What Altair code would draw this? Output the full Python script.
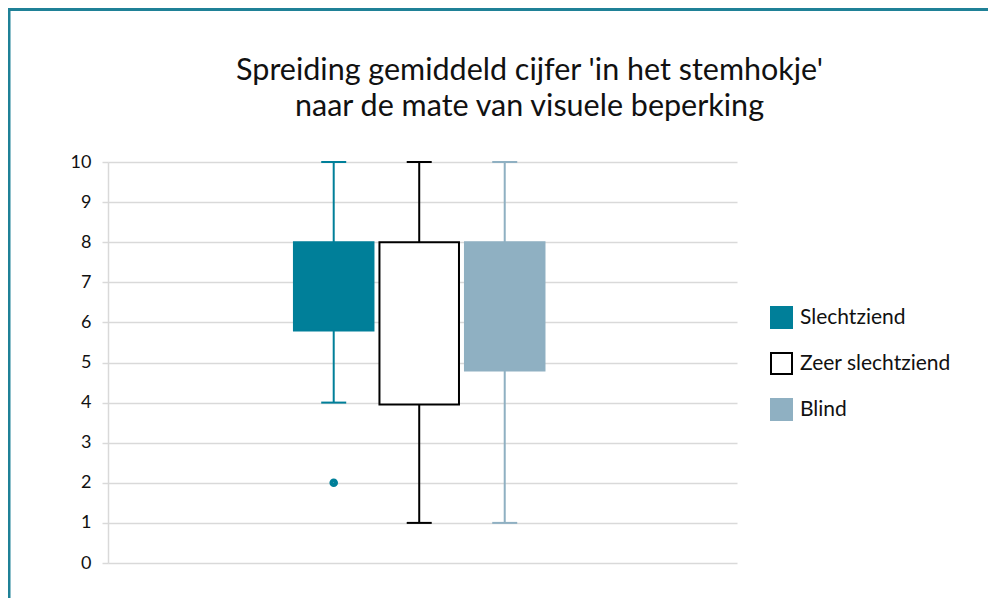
import altair as alt
import pandas as pd

groups = ["Slechtziend", "Zeer slechtziend", "Blind"]
whisker_low = [4, 1, 1]
q1 = [5.8, 3.95, 4.8]
q3 = [8, 8, 8]
whisker_high = [10, 10, 10]
outlier_groups = ["Slechtziend"]
outlier_values = [2]

# empty slots left and right of the three boxes (the chart's category axis is unlabeled)
x_slots = ["_l1", "_l2"] + groups + ["_r1", "_r2"]

fill_colors = ["#007f99", "#ffffff", "#8fb0c2"]
stroke_colors = ["#007f99", "#000000", "#8fb0c2"]

box_df = pd.DataFrame({"groep": groups, "low": whisker_low, "q1": q1, "q3": q3, "high": whisker_high})
out_df = pd.DataFrame({"groep": outlier_groups, "waarde": outlier_values})

FONT = "Lato"

x_enc = alt.X("groep:N", axis=None,
              scale=alt.Scale(domain=x_slots, paddingInner=0.07, paddingOuter=0.213, align=0.41))
y_scale = alt.Scale(domain=[0, 10], nice=False)
fill_scale = alt.Scale(domain=groups, range=fill_colors)
stroke_scale = alt.Scale(domain=groups, range=stroke_colors)

legend_cfg = dict(title=None, orient="none", legendX=662, legendY=144,
                  symbolType="square", symbolSize=441, symbolStrokeWidth=2, symbolOpacity=1,
                  labelFontSize=21, labelFont=FONT, labelColor="#111111",
                  labelOffset=7, rowPadding=17)

base = alt.Chart(box_df)

whiskers = base.mark_rule(strokeWidth=2, opacity=1).encode(
    x=x_enc,
    y=alt.Y("low:Q", scale=y_scale,
            axis=alt.Axis(values=list(range(0, 11)), title=None, grid=True, gridColor="#d9d9d9",
                          gridWidth=1.5, domainColor="#d9d9d9", domainWidth=1.5, tickColor="#d9d9d9",
                          tickWidth=1.5, tickSize=6, labelPadding=11, labelFontSize=18, labelFont=FONT,
                          labelColor="#111111")),
    y2="high:Q",
    stroke=alt.Stroke("groep:N", scale=stroke_scale),
)

caps_low = base.mark_tick(size=23, thickness=0.01, filled=False, strokeWidth=2, opacity=1).encode(
    x=x_enc, y=alt.Y("low:Q", scale=y_scale),
    stroke=alt.Stroke("groep:N", scale=stroke_scale),
)
caps_high = base.mark_tick(size=23, thickness=0.01, filled=False, strokeWidth=2, opacity=1).encode(
    x=x_enc, y=alt.Y("high:Q", scale=y_scale),
    stroke=alt.Stroke("groep:N", scale=stroke_scale),
)

boxes = base.mark_bar(strokeWidth=2, opacity=1).encode(
    x=x_enc,
    y=alt.Y("q1:Q", scale=y_scale),
    y2="q3:Q",
    fill=alt.Fill("groep:N", scale=fill_scale, legend=alt.Legend(**legend_cfg)),
    stroke=alt.Stroke("groep:N", scale=stroke_scale, legend=alt.Legend(**legend_cfg)),
)

outliers = alt.Chart(out_df).mark_point(shape="circle", filled=False, size=16, strokeWidth=4.6, opacity=1).encode(
    x=x_enc,
    y=alt.Y("waarde:Q", scale=y_scale),
    stroke=alt.Stroke("groep:N", scale=stroke_scale),
)

frame = alt.Chart(pd.DataFrame({"k": [0]})).mark_rect(
    fill=None, stroke="#1f8197", strokeWidth=3
).encode(x=alt.value(-99), x2=alt.value(2000), y=alt.value(-152.5), y2=alt.value(2000))

chart = alt.layer(frame, whiskers, caps_low, caps_high, boxes, outliers).properties(
    width=629,
    height=401,
    autosize=alt.AutoSizeParams(type="none"),
    padding={"left": 100, "top": 154, "right": 251, "bottom": 35},
    title=alt.TitleParams(
        text=["Spreiding gemiddeld cijfer 'in het stemhokje'", "naar de mate van visuele beperking"],
        font=FONT, fontSize=30.5, fontWeight="normal", color="#111111",
        anchor="middle", frame="group", dx=107, lineHeight=36, offset=0, dy=114,
    ),
).configure(background="white").configure_view(stroke=None)

chart.save("out.html", embed_options={"renderer": "svg", "actions": False})
